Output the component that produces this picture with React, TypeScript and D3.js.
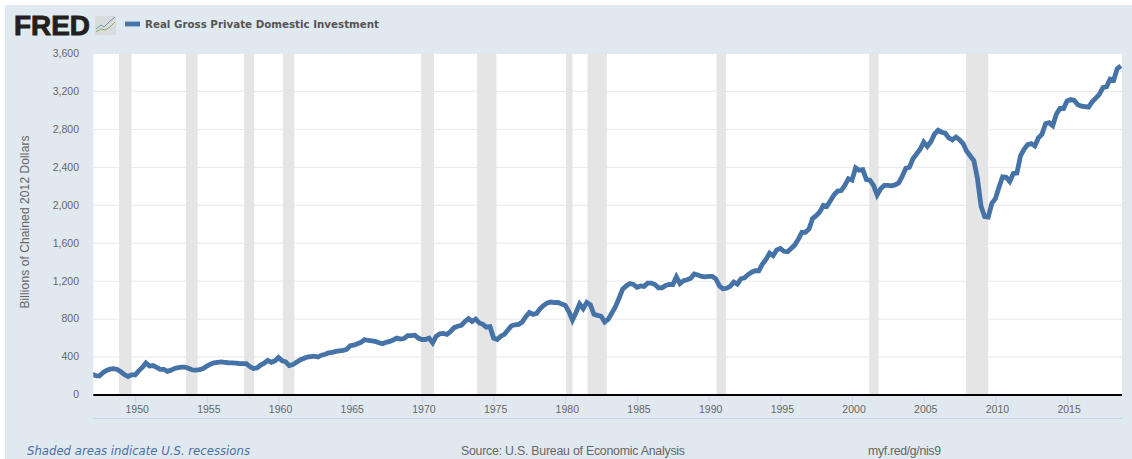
import { useEffect, useRef } from "react";
import * as d3 from "d3";

const startYear = 1947;

// quarterly values, billions of chained 2012 dollars, four per year from 1947
const investment = [
  218, 205, 200, 235, 258, 272, 278, 270, 245, 215, 195, 212,
  212, 255, 290, 338, 305, 310, 290, 270, 270, 250, 262, 280,
  288, 293, 293, 280, 265, 262, 268, 280, 305, 325, 340, 345,
  350, 345, 340, 338, 335, 332, 330, 330, 300, 280, 285, 315,
  335, 365, 345, 360, 395, 360, 350, 310, 320, 345, 370, 385,
  400, 405, 410, 400, 420, 430, 445, 450, 460, 465, 470, 480,
  520, 525, 540, 555, 585, 575, 570, 565, 550, 540, 555, 565,
  580, 600, 590, 595, 625, 625, 630, 600, 585, 585, 600, 550,
  620, 645, 650, 640, 670, 710, 725, 735, 775, 805, 775, 800,
  760, 745, 715, 720, 600, 585, 620, 640, 685, 730, 740, 745,
  770, 825, 870, 850, 860, 910, 945, 970, 980, 975, 975, 960,
  945, 880, 790, 870, 960, 910, 975, 950, 850, 840, 830, 770,
  800, 865, 930, 1020, 1115, 1150, 1175, 1165, 1135, 1150, 1145, 1180,
  1180, 1165, 1130, 1130, 1155, 1165, 1165, 1245, 1175, 1205, 1215, 1230,
  1275, 1265, 1250, 1245, 1250, 1250, 1225, 1150, 1120, 1125, 1145, 1190,
  1170, 1225, 1235, 1270, 1295, 1310, 1310, 1380, 1430, 1495, 1470, 1530,
  1545, 1515, 1510, 1545, 1580, 1640, 1715, 1715, 1750, 1860, 1890, 1930,
  2000, 1990, 2050, 2110, 2150, 2155, 2210, 2280, 2265, 2395, 2370, 2375,
  2270, 2265, 2210, 2110, 2175, 2210, 2210, 2205, 2215, 2235, 2305, 2390,
  2400, 2490, 2540, 2590, 2665, 2620, 2670, 2750, 2790, 2770, 2760, 2710,
  2690, 2720, 2690, 2650, 2570, 2520, 2470, 2280, 1990, 1880, 1875, 2020,
  2070, 2190, 2300, 2295, 2250, 2335, 2340, 2520, 2590, 2640, 2650, 2625,
  2710, 2750, 2860, 2870, 2840, 2960, 3020, 3020, 3100, 3115, 3105, 3060,
  3045, 3040, 3035, 3090, 3130, 3170, 3240, 3250, 3330, 3320, 3440, 3470,
];

// start and end as decimal years
const recessions = [
  [1948.88, 1949.75],
  [1953.55, 1954.35],
  [1957.6, 1958.3],
  [1960.3, 1961.1],
  [1969.95, 1970.85],
  [1973.85, 1975.2],
  [1980.05, 1980.5],
  [1981.55, 1982.9],
  [1990.55, 1991.2],
  [2001.2, 2001.85],
  [2007.95, 2009.5],
];

const yTicks = [0, 400, 800, 1200, 1600, 2000, 2400, 2800, 3200, 3600];
const xTicks = [1950, 1955, 1960, 1965, 1970, 1975, 1980, 1985, 1990, 1995, 2000, 2005, 2010, 2015];

const width = 1132;
const height = 459;
const plot = { left: 93.3, right: 1122, top: 53, bottom: 395 };
const sans = "'Liberation Sans', Arial, sans-serif";
const dejavu = "'DejaVu Sans', Verdana, sans-serif";

export default function App() {
  const svgRef = useRef<SVGSVGElement | null>(null);

  useEffect(() => {
    const x = d3.scaleLinear().domain([1947.08, 2018.83]).range([plot.left, plot.right]);
    const y = d3.scaleLinear().domain([0, 3600]).range([plot.bottom, plot.top + 0.5]);

    const svg = d3.select(svgRef.current);
    svg.html("");

    svg
      .append("clipPath")
      .attr("id", "plot-clip")
      .append("rect")
      .attr("x", plot.left)
      .attr("y", plot.top)
      .attr("width", plot.right - plot.left)
      .attr("height", plot.bottom - plot.top);

    svg.append("rect").attr("x", 5).attr("y", 5).attr("width", width - 5).attr("height", height - 5).attr("fill", "#e1e9f0");
    svg
      .append("rect")
      .attr("x", plot.left)
      .attr("y", plot.top)
      .attr("width", plot.right - plot.left)
      .attr("height", plot.bottom - plot.top)
      .attr("fill", "#ffffff");

    // grid
    svg
      .append("g")
      .selectAll("line")
      .data(yTicks.filter((d) => d > 0))
      .join("line")
      .attr("x1", plot.left)
      .attr("x2", plot.right)
      .attr("y1", (d) => y(d))
      .attr("y2", (d) => y(d))
      .attr("stroke", "#e9e9e9");

    // recession bands
    svg
      .append("g")
      .selectAll("rect")
      .data(recessions)
      .join("rect")
      .attr("x", (d) => x(d[0]))
      .attr("y", plot.top)
      .attr("width", (d) => x(d[1]) - x(d[0]))
      .attr("height", plot.bottom - plot.top)
      .attr("fill", "#e5e5e5");

    // y axis labels only
    const yAxis = d3
      .axisLeft(y)
      .tickValues(yTicks)
      .tickSize(0)
      .tickPadding(0)
      .tickFormat((d) => d3.format(",")(d as number));
    const yG = svg.append("g").attr("transform", "translate(79,-0.5)").call(yAxis);
    yG.select(".domain").remove();
    yG.selectAll("text").attr("font-family", sans).attr("font-size", 10.5).attr("fill", "#666666");

    // x axis
    const xAxis = d3
      .axisBottom(x)
      .tickValues(xTicks)
      .tickSize(9)
      .tickPadding(2)
      .tickFormat((d) => String(d));
    const xG = svg.append("g").attr("transform", `translate(0,${plot.bottom})`).call(xAxis);
    xG.select(".domain").remove();
    xG.selectAll("line").attr("stroke", "#ccd6eb");
    xG.selectAll("text")
      .attr("font-family", sans)
      .attr("font-size", 10.5)
      .attr("fill", "#666666")
      .attr("dx", 1.5);

    svg
      .append("line")
      .attr("x1", plot.left)
      .attr("x2", plot.right)
      .attr("y1", 418.5)
      .attr("y2", 418.5)
      .attr("stroke", "#ccd6eb");
    svg
      .append("line")
      .attr("x1", plot.left)
      .attr("x2", plot.right)
      .attr("y1", plot.bottom)
      .attr("y2", plot.bottom)
      .attr("stroke", "#000000")
      .attr("stroke-width", 2);

    const line = d3
      .line<number>()
      .x((_, i) => x(startYear + i / 4))
      .y((d) => y(d));
    svg
      .append("path")
      .attr("d", line(investment))
      .attr("clip-path", "url(#plot-clip)")
      .attr("fill", "none")
      .attr("stroke", "#4572a7")
      .attr("stroke-width", 4.8)
      .attr("stroke-linejoin", "miter")
      .attr("stroke-miterlimit", 3);

    // y title
    svg
      .append("text")
      .attr("transform", "translate(29,222) rotate(-90)")
      .attr("text-anchor", "middle")
      .attr("font-family", sans)
      .attr("font-size", 12)
      .attr("textLength", 173)
      .attr("fill", "#666666")
      .text("Billions of Chained 2012 Dollars");

    // FRED logo
    svg
      .append("text")
      .attr("x", 14)
      .attr("y", 34.5)
      .attr("font-family", sans)
      .attr("font-weight", 700)
      .attr("font-size", 28)
      .attr("stroke", "#231f20")
      .attr("stroke-width", 0.9)
      .attr("fill", "#231f20")
      .attr("textLength", 76)
      .attr("lengthAdjust", "spacingAndGlyphs")
      .text("FRED");
    const logo = svg.append("g").attr("transform", "translate(95,16)");
    logo.append("rect").attr("width", 21).attr("height", 19).attr("rx", 1.5).attr("fill", "#d9dcdc");
    logo.append("polyline").attr("points", "1,13 6,9 9,11 14,6 20,1").attr("fill", "none").attr("stroke", "#6e93b8").attr("stroke-width", 1);
    logo.append("polyline").attr("points", "1,16 6,13 10,14 15,11 20,6").attr("fill", "none").attr("stroke", "#8fae5c").attr("stroke-width", 1);

    // legend
    svg
      .append("line")
      .attr("x1", 125)
      .attr("x2", 140)
      .attr("y1", 24)
      .attr("y2", 24)
      .attr("stroke", "#4572a7")
      .attr("stroke-width", 4.8);
    svg
      .append("text")
      .attr("x", 145)
      .attr("y", 28)
      .attr("font-family", dejavu)
      .attr("font-weight", 700)
      .attr("font-size", 11)
      .attr("textLength", 234)
      .attr("lengthAdjust", "spacingAndGlyphs")
      .attr("fill", "#555555")
      .text("Real Gross Private Domestic Investment");

    // footer
    svg
      .append("text")
      .attr("x", 27)
      .attr("y", 455)
      .attr("font-family", dejavu)
      .attr("font-style", "italic")
      .attr("font-size", 11.7)
      .attr("textLength", 223)
      .attr("fill", "#4a6fa5")
      .text("Shaded areas indicate U.S. recessions");
    svg
      .append("text")
      .attr("x", 461)
      .attr("y", 455)
      .attr("font-family", sans)
      .attr("font-size", 12.3)
      .attr("textLength", 224)
      .attr("fill", "#666666")
      .text("Source: U.S. Bureau of Economic Analysis");
    svg
      .append("text")
      .attr("x", 868)
      .attr("y", 455)
      .attr("font-family", sans)
      .attr("font-size", 12.3)
      .attr("textLength", 73)
      .attr("fill", "#666666")
      .text("myf.red/g/nis9");
  }, []);

  return (
    <svg
      ref={svgRef}
      width={width}
      height={height}
      style={{ position: "absolute", left: 0, top: 0, display: "block" }}
    ></svg>
  );
}
